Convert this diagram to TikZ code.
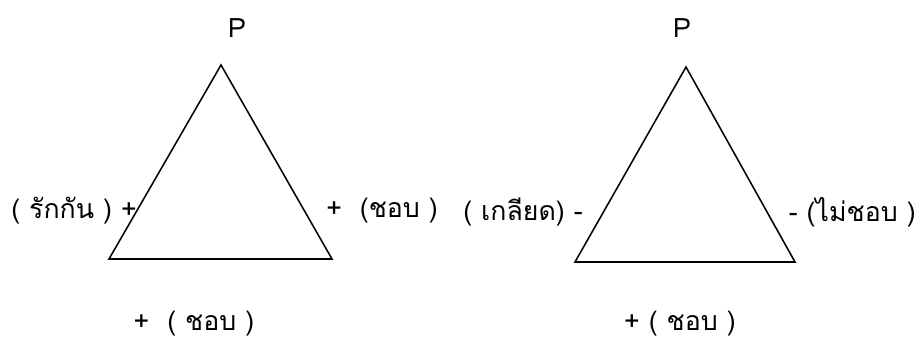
\documentclass[tikz,border=0pt]{standalone}
\usepackage{fontspec}
\setmainfont{Liberation Sans}
\newfontfamily\thaifont[Script=Thai]{Loma}
\usepackage{tikz}
\usetikzlibrary{positioning}

\begin{document}
\begin{tikzpicture}[x=0.025cm, y=-0.025cm,
    lbl/.style={inner sep=0pt, font=\thaifont\fontsize{19}{22}\selectfont},
    side/.style={line width=1.1pt, line join=miter}]
  \useasboundingbox (0,0) rectangle (920,341);

  % left triangle
  \coordinate (la) at (221,65);
  \coordinate (lb) at (109,259);
  \coordinate (lc) at (332,259);
  \draw[side] (la) -- (lb) -- (lc) -- cycle;
  \node[lbl] (lp) at (237,28) {P};
  \node[lbl, anchor=east] (lleft) at (137,211) {( รักกัน ) +};
  \node[lbl, anchor=west] (lright) at (326,211) {+ \ (ชอบ )};
  \node[lbl] (lbot) at (194,324) {+ \ ( ชอบ )};

  % right triangle
  \coordinate (ra) at (686,67);
  \coordinate (rb) at (575,262);
  \coordinate (rc) at (795,262);
  \draw[side] (ra) -- (rb) -- (rc) -- cycle;
  \node[lbl] (rp) at (682,28) {P};
  \node[lbl, anchor=east] (rleft) at (583,212) {( เกลียด) -};
  \node[lbl, anchor=east] (rright) at (916,212) {- (ไม่ชอบ )};
  \node[lbl] (rbot) at (680,324) {+ ( ชอบ )};
\end{tikzpicture}
\end{document}
